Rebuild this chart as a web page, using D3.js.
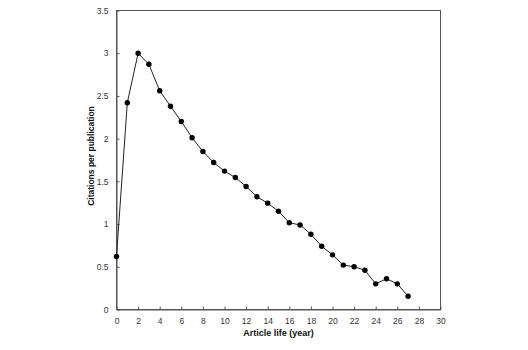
<!DOCTYPE html>
<html><head><meta charset="utf-8">
<script src="https://cdn.jsdelivr.net/npm/d3@7"></script>
<style>body{margin:0;background:#fff}svg{display:block}</style>
</head><body>
<svg id="c" width="528" height="350"></svg>
<script>
const years = [0,1,2,3,4,5,6,7,8,9,10,11,12,13,14,15,16,17,18,19,20,21,22,23,24,25,26,27];
const citations = [0.62,2.42,3.0,2.87,2.56,2.38,2.20,2.01,1.85,1.72,1.62,1.545,1.44,1.32,1.245,1.15,1.015,0.99,0.88,0.74,0.64,0.52,0.50,0.46,0.30,0.36,0.30,0.155];
const xTicks = [0,2,4,6,8,10,12,14,16,18,20,22,24,26,28,30];
const yTicks = [0,0.5,1,1.5,2,2.5,3,3.5];
const xTitle = "Article life (year)";
const yTitle = "Citations per publication";

const svg = d3.select("#c");
const L = 116.5, R = 440.5, T = 10.5, B = 309.5;
const x = d3.scaleLinear().domain([0,30]).range([L,R]);
const y = d3.scaleLinear().domain([0,3.5]).range([B,T]);
const font = "Arial, 'Liberation Sans', sans-serif";

svg.append("rect").attr("x",L).attr("y",T).attr("width",R-L).attr("height",B-T)
  .attr("fill","none").attr("stroke","#555").attr("stroke-width",1);

const xa = svg.append("g").attr("transform",`translate(0,${B})`)
  .call(d3.axisBottom(x).tickValues(xTicks).tickSizeInner(-3).tickSizeOuter(0).tickPadding(8).tickFormat(d3.format("d")));
const ya = svg.append("g").attr("transform",`translate(${L},0)`)
  .call(d3.axisLeft(y).tickValues(yTicks).tickSizeInner(-3).tickSizeOuter(0).tickPadding(8).tickFormat(d=>String(d)));
[xa,ya].forEach(g=>{
  g.select(".domain").attr("stroke","#555");
  g.selectAll(".tick line").attr("stroke","#555");
  g.selectAll(".tick text").attr("fill","#333").style("font-family",font).style("font-size","8.5px");
});

const line = d3.line().x((d,i)=>x(years[i])).y(d=>y(d));
svg.append("path").datum(citations).attr("d",line).attr("fill","none").attr("stroke","#222").attr("stroke-width",1);
svg.selectAll("circle.pt").data(citations).enter().append("circle").attr("class","pt")
  .attr("cx",(d,i)=>x(years[i])).attr("cy",d=>y(d)).attr("r",2.7).attr("fill","#000");

svg.append("text").attr("x",(L+R)/2).attr("y",336).attr("text-anchor","middle")
  .style("font-family",font).style("font-size","9px").style("font-weight","bold").attr("fill","#111").text(xTitle);
svg.append("text").attr("transform",`translate(94,156) rotate(-90)`).attr("text-anchor","middle")
  .style("font-family",font).style("font-size","8.5px").style("font-weight","bold").attr("fill","#111").text(yTitle);
</script>
</body></html>
